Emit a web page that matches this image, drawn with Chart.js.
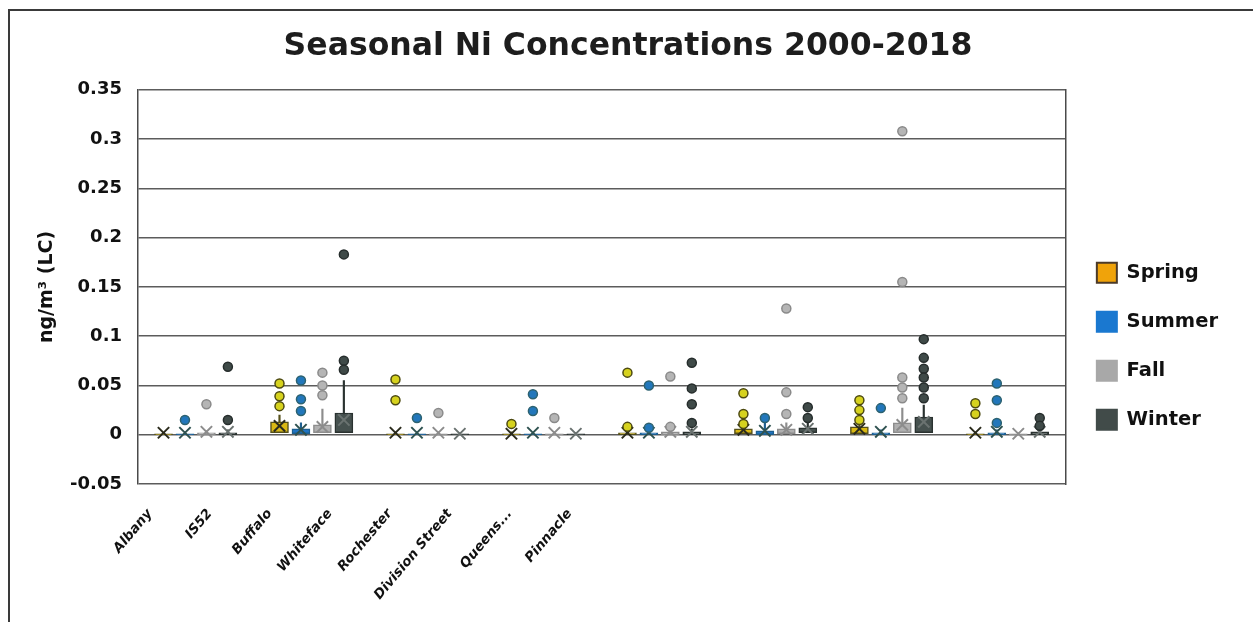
<!DOCTYPE html>
<html>
<head>
<meta charset="utf-8">
<script src="https://cdn.jsdelivr.net/npm/chart.js@4.4.0/dist/chart.umd.min.js"></script>
<style>
  html, body { margin: 0; padding: 0; background: #fff; }
  #wrap { position: relative; width: 1253px; height: 622px; overflow: hidden; }
  #frame { position: absolute; left: 8px; top: 9px; width: 1250px; height: 620px;
           border-left: 2px solid #3a3a3a; border-top: 2px solid #3a3a3a; pointer-events: none; }
  canvas { position: absolute; left: 0; top: 0; }
</style>
</head>
<body>
<div id="wrap">
  <canvas id="chart" width="1253" height="622"></canvas>
  <div id="frame"></div>
</div>
<script>
var sites = ['Albany', 'IS52', 'Buffalo', 'Whiteface', 'Rochester', 'Division Street', 'Queens...', 'Pinnacle']
var seasons = ['Spring', 'Summer', 'Fall', 'Winter']

// box stats per site: lower quartile, upper quartile, whisker top, mean
var springQ1 = [0, 0.002, 0, 0, 0, 0.001, 0.001, 0]
var springQ3 = [0.001, 0.013, 0.001, 0.001, 0.002, 0.006, 0.008, 0.001]
var springTop = [0.002, 0.02, 0.003, 0.003, 0.004, 0.009, 0.01, 0.003]
var springMean = [0.002, 0.009, 0.002, 0.001, 0.002, 0.005, 0.006, 0.002]
var springOut = [[], [0.052, 0.039, 0.029], [0.056, 0.035], [0.011], [0.063, 0.008], [0.042, 0.021, 0.011], [0.035, 0.025, 0.015], [0.032, 0.021]]

var summerQ1 = [0, 0.001, 0, 0, 0, 0, 0, 0]
var summerQ3 = [0.001, 0.006, 0.001, 0.001, 0.002, 0.004, 0.002, 0.002]
var summerTop = [0.003, 0.012, 0.003, 0.002, 0.005, 0.012, 0.005, 0.005]
var summerMean = [0.002, 0.005, 0.002, 0.002, 0.002, 0.004, 0.003, 0.003]
var summerOut = [[0.015], [0.055, 0.036, 0.024], [0.017], [0.041, 0.024], [0.05, 0.007], [0.017], [0.027], [0.052, 0.035, 0.012]]

var fallQ1 = [0, 0.002, 0, 0, 0, 0.001, 0.002, 0]
var fallQ3 = [0.002, 0.01, 0.001, 0.001, 0.003, 0.006, 0.012, 0.001]
var fallTop = [0.004, 0.026, 0.003, 0.003, 0.006, 0.012, 0.027, 0.002]
var fallMean = [0.003, 0.008, 0.002, 0.002, 0.003, 0.005, 0.01, 0.001]
var fallOut = [[0.031], [0.063, 0.05, 0.04], [0.022], [0.017], [0.059, 0.008], [0.128, 0.043, 0.021], [0.308, 0.155, 0.058, 0.048, 0.037], []]

var winterQ1 = [0, 0.002, 0, 0, 0, 0.002, 0.002, 0]
var winterQ3 = [0.002, 0.022, 0.001, 0.001, 0.003, 0.007, 0.018, 0.003]
var winterTop = [0.005, 0.055, 0.002, 0.002, 0.006, 0.012, 0.03, 0.006]
var winterMean = [0.003, 0.015, 0.001, 0.001, 0.003, 0.006, 0.013, 0.003]
var winterOut = [[0.069, 0.015], [0.183, 0.075, 0.066], [], [], [0.073, 0.047, 0.031, 0.012], [0.028, 0.017], [0.097, 0.078, 0.067, 0.058, 0.048, 0.037], [0.017, 0.009]]

// looks
var seasonOffset = [-0.28, -0.095, 0.09, 0.275]
var boxFill = ['#d9b814', '#1f74c4', '#b0b0b0', '#46514f']
var boxLine = ['#55501a', '#1d5f8f', '#8d8d8d', '#2a3230']
var dotFill = ['#d6d21e', '#2277bb', '#b5b5b5', '#3f4a48']
var dotLine = ['#4d4a12', '#2d6270', '#8a8a8a', '#262d2c']
var meanLine = ['#2b2b1c', '#2f5250', '#8c8c8c', '#6a7270']
var legendFill = ['#f0a30a', '#1a78d0', '#a8a8a8', '#414b49']
var legendLine = ['#4b3a28', '#1a78d0', '#a8a8a8', '#414b49']
var labelStart = -0.397, labelStep = 0.517

Chart.defaults.font.family = "'DejaVu Sans', sans-serif"
Chart.defaults.font.weight = 'bold'
Chart.defaults.color = '#111'

function seasonDatasets(k, q1, q3, top, mean, outliers) {
  var off = seasonOffset[k]
  var dots = []
  outliers.forEach(function (list, i) {
    list.forEach(function (v) { dots.push({x: i + off, y: v}) })
  })
  return [
    { type: 'bar', label: 'whisker', order: 4, grouped: false, barThickness: 1.5,
      backgroundColor: boxLine[k],
      data: sites.map(function (s, i) { return {x: i + off, y: [q1[i], top[i]]} }) },
    { type: 'bar', label: seasons[k], order: 3, grouped: false, barThickness: 18,
      backgroundColor: boxFill[k], borderColor: boxLine[k], borderWidth: 1.5, borderSkipped: false,
      data: sites.map(function (s, i) { return {x: i + off, y: [q1[i], q3[i]]} }) },
    { type: 'scatter', label: 'mean', order: 2, pointStyle: 'crossRot', pointRadius: 8,
      borderColor: meanLine[k], borderWidth: 2,
      data: sites.map(function (s, i) { return {x: i + off, y: mean[i]} }) },
    { type: 'scatter', label: 'outliers', order: 1, pointStyle: 'circle', pointRadius: 4.5,
      backgroundColor: dotFill[k], borderColor: dotLine[k], borderWidth: 1.5,
      data: dots }
  ]
}

var datasets = [].concat(
  seasonDatasets(0, springQ1, springQ3, springTop, springMean, springOut),
  seasonDatasets(1, summerQ1, summerQ3, summerTop, summerMean, summerOut),
  seasonDatasets(2, fallQ1, fallQ3, fallTop, fallMean, fallOut),
  seasonDatasets(3, winterQ1, winterQ3, winterTop, winterMean, winterOut)
)

var context = document.getElementById('chart').getContext('2d')
var chart = new Chart(context, {
  type: 'bar',
  data: { datasets: datasets },
  options: {
    responsive: false,
    animation: false,
    layout: { padding: { left: 28, right: 25 } },
    plugins: {
      tooltip: { enabled: false },
      title: {
        display: true,
        text: 'Seasonal Ni Concentrations 2000-2018',
        color: '#1d1d1d',
        font: { size: 31.5, weight: 'bold' },
        padding: { top: 28, bottom: 24 }
      },
      legend: {
        position: 'right',
        align: 'center',
        title: { display: true, text: '', padding: 28 },
        labels: {
          boxWidth: 20, boxHeight: 20, padding: 29,
          font: { size: 19.5, weight: 'bold' },
          generateLabels: function () {
            return seasons.map(function (s, k) {
              return { text: s, fillStyle: legendFill[k], strokeStyle: legendLine[k], lineWidth: 2, datasetIndex: k * 4 + 1, hidden: false }
            })
          }
        }
      }
    },
    scales: {
      x: { type: 'linear', min: -0.5, max: 7.5, offset: false, display: false },
      xl: {
        type: 'linear', position: 'bottom', min: -0.5, max: 7.5, offset: false,
        grid: { display: false }, border: { display: false },
        ticks: {
          autoSkip: false, minRotation: 50, maxRotation: 50, padding: 14,
          font: { size: 13.5, weight: 'bold', style: 'italic' },
          callback: function (v, i) { return sites[i] }
        },
        afterBuildTicks: function (axis) {
          axis.ticks = sites.map(function (s, i) { return { value: labelStart + i * labelStep } })
        },
        afterFit: function (axis) { axis.height = 138 }
      },
      y: {
        type: 'linear', min: -0.05, max: 0.35,
        grid: { color: '#5c5c5c', lineWidth: 1.5, drawTicks: false },
        border: { display: true, color: '#4a4a4a', width: 1.5 },
        ticks: {
          stepSize: 0.05, padding: 16,
          font: { size: 18, weight: 'bold' },
          callback: function (v) { return String(+v.toFixed(2)) }
        },
        title: { display: true, text: 'ng/m³ (LC)', font: { size: 19, weight: 'bold' }, padding: { top: 8, bottom: 0 } },
        afterFit: function (axis) { axis.width = 110 }
      },
      y2: {
        type: 'linear', position: 'right', min: -0.05, max: 0.35,
        grid: { display: false, drawTicks: false },
        border: { display: true, color: '#4a4a4a', width: 1.5 },
        ticks: { display: false },
        afterFit: function (axis) { axis.width = 2 }
      }
    }
  }
})
</script>
</body>
</html>
